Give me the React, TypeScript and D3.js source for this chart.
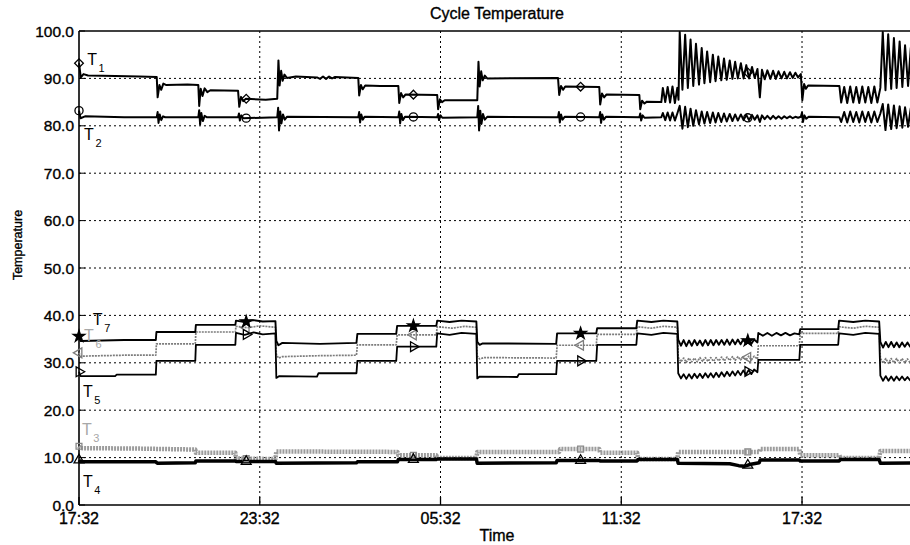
import { useEffect } from 'react';
import * as d3 from 'd3';

type Pt = [number, number];

// hours after 17:32 on the x axis, temperatures on the y axis
const hourTicks = [0, 6, 12, 18, 24];
const hourTickLabels = ['17:32', '23:32', '05:32', '11:32', '17:32'];
const tempTicks = [0, 10, 20, 30, 40, 50, 60, 70, 80, 90, 100];
const markerHours = [0, 5.55, 11.1, 16.65, 22.2];

const t1Temp: Pt[] = [
  [0, 93.2], [0.06, 90.2], [0.15, 90.9], [0.3, 90.6], [1.2, 90.5], [2.0, 90.4], [2.58, 90.3],
  [2.61, 86.0], [2.67, 88.6], [2.73, 87.6], [2.8, 88.9], [2.9, 88.6], [3.6, 88.7], [3.96, 88.6],
  [3.99, 84.2], [4.04, 87.8], [4.1, 86.3], [4.17, 87.9], [4.26, 87.1], [4.36, 87.5], [5.28, 87.4],
  [5.32, 84.0], [5.38, 86.1], [5.45, 85.2], [5.54, 85.7], [6.2, 85.5], [6.58, 85.7],
  [6.62, 93.8], [6.66, 88.5], [6.71, 91.6], [6.76, 89.5], [6.82, 90.8], [6.9, 90.1], [7.2, 90.4],
  [7.9, 90.2], [8.0, 89.9], [8.1, 90.4], [8.2, 89.9], [8.3, 90.4], [8.4, 90.0], [8.5, 90.3], [9.27, 90.1],
  [9.3, 86.4], [9.36, 88.6], [9.42, 87.7], [9.5, 88.5], [10.0, 88.4], [10.6, 88.4],
  [10.63, 84.8], [10.69, 86.9], [10.76, 86.0], [10.84, 86.6], [11.89, 86.5],
  [11.92, 83.5], [11.98, 85.6], [12.05, 85.0], [12.14, 85.4], [13.22, 85.4],
  [13.26, 93.5], [13.3, 88.3], [13.35, 91.5], [13.4, 89.6], [13.47, 90.6], [13.55, 90.0], [15.9, 90.1],
  [15.94, 86.5], [16.0, 88.4], [16.07, 87.6], [16.14, 88.3], [17.27, 88.2],
  [17.3, 84.5], [17.36, 86.8], [17.43, 86.0], [17.51, 86.6], [18.6, 86.5],
  [18.63, 83.5], [18.69, 85.3], [18.77, 84.7], [18.85, 85.1], [19.33, 85.0],
  [19.38, 88.0], [19.46, 85.0], [19.54, 88.2], [19.62, 84.9], [19.7, 88.3], [19.78, 84.8], [19.86, 88.0], [19.9, 85.5],
  [19.94, 99.8], [20.03, 87.6], [20.12, 99.2], [20.21, 88.0], [20.3, 98.2], [20.39, 88.4], [20.48, 97.3],
  [20.58, 88.7], [20.67, 96.4], [20.76, 89.0], [20.85, 95.7], [20.95, 89.2], [21.04, 95.0], [21.13, 89.4],
  [21.22, 94.6], [21.32, 89.6], [21.41, 94.2], [21.5, 89.7], [21.6, 93.8], [21.69, 89.9], [21.78, 93.5],
  [21.87, 90.0], [21.97, 93.2], [22.06, 90.0], [22.15, 92.8], [22.24, 90.0], [22.34, 92.4], [22.43, 90.1],
  [22.52, 92.0], [22.6, 86.0], [22.67, 91.8], [22.76, 89.8], [22.85, 91.7], [22.95, 89.9], [23.04, 91.6],
  [23.13, 89.9], [23.22, 91.5], [23.32, 90.0], [23.41, 91.4], [23.5, 90.0], [23.6, 91.3], [23.69, 90.1],
  [23.78, 91.2], [23.87, 90.2], [23.96, 90.9],
  [24.01, 85.4], [24.07, 88.8], [24.13, 87.8], [24.2, 88.5], [25.24, 88.4],
  [25.3, 84.9], [25.4, 88.2], [25.5, 84.8], [25.6, 88.3], [25.7, 84.9], [25.8, 88.2], [25.9, 84.8],
  [26.0, 88.3], [26.1, 84.9], [26.2, 88.2], [26.3, 84.8], [26.4, 88.3], [26.5, 84.9], [26.6, 88.0],
  [26.68, 99.8], [26.77, 87.5], [26.86, 99.3], [26.96, 87.8], [27.05, 98.5], [27.14, 88.0],
  [27.24, 97.8], [27.33, 88.2], [27.42, 97.0], [27.52, 88.4], [27.61, 96.4], [27.7, 88.5],
];

const t2Temp: Pt[] = [
  [0, 83.2], [0.05, 81.6], [0.2, 82.0], [1.5, 81.8], [2.58, 81.8],
  [2.61, 82.9], [2.64, 80.6], [2.68, 82.4], [2.73, 81.2], [2.79, 82.0], [2.86, 81.8], [3.96, 81.8],
  [3.99, 83.3], [4.02, 80.3], [4.06, 82.7], [4.11, 81.0], [4.17, 82.1], [4.25, 81.8], [5.28, 81.8],
  [5.31, 82.6], [5.34, 81.1], [5.39, 82.2], [5.45, 81.6], [6.58, 81.8],
  [6.61, 83.8], [6.64, 79.0], [6.68, 83.0], [6.72, 80.5], [6.77, 82.4], [6.83, 81.3], [6.9, 81.9], [9.27, 81.8],
  [9.3, 82.9], [9.33, 80.7], [9.37, 82.4], [9.42, 81.3], [9.48, 81.9], [10.6, 81.8],
  [10.63, 83.0], [10.66, 80.5], [10.7, 82.5], [10.75, 81.2], [10.82, 81.9], [11.89, 81.8],
  [11.92, 82.5], [11.95, 81.2], [12.0, 82.2], [12.06, 81.7], [13.22, 81.8],
  [13.25, 84.2], [13.28, 79.0], [13.32, 83.2], [13.36, 80.4], [13.41, 82.5], [13.47, 81.3], [13.55, 81.9], [15.9, 81.8],
  [15.93, 82.9], [15.96, 80.7], [16.0, 82.4], [16.05, 81.3], [16.12, 81.9], [17.27, 81.8],
  [17.3, 82.9], [17.33, 80.6], [17.37, 82.4], [17.42, 81.3], [17.49, 81.9], [18.6, 81.8],
  [18.63, 82.6], [18.66, 81.1], [18.71, 82.2], [18.77, 81.7], [19.33, 81.8],
  [19.38, 82.7], [19.46, 81.2], [19.54, 82.8], [19.62, 81.1], [19.7, 82.8], [19.78, 81.1], [19.86, 82.6],
  [19.94, 84.2], [20.03, 79.4], [20.12, 84.0], [20.21, 79.7], [20.3, 83.6], [20.39, 80.0], [20.48, 83.3],
  [20.58, 80.3], [20.67, 83.0], [20.76, 80.5], [20.85, 82.9], [20.95, 80.6], [21.04, 82.8], [21.13, 80.7],
  [21.22, 82.7], [21.32, 80.8], [21.41, 82.6], [21.5, 80.9], [21.6, 82.5], [21.69, 81.0], [21.78, 82.4],
  [21.87, 81.1], [21.97, 82.4], [22.06, 81.2], [22.15, 82.3], [22.24, 81.2], [22.34, 82.3], [22.43, 81.3],
  [22.52, 82.2], [22.6, 80.8], [22.67, 82.2], [22.76, 81.4], [22.85, 82.1], [22.95, 81.4], [23.04, 82.1],
  [23.13, 81.5], [23.22, 82.0], [23.32, 81.5], [23.41, 82.0], [23.5, 81.6], [23.6, 82.0], [23.69, 81.6],
  [23.78, 81.9], [23.87, 81.7], [23.96, 81.9],
  [24.0, 82.8], [24.03, 80.8], [24.08, 82.2], [24.14, 81.5], [24.22, 81.9], [25.24, 81.8],
  [25.3, 80.8], [25.4, 82.9], [25.5, 80.7], [25.6, 83.0], [25.7, 80.8], [25.8, 82.9], [25.9, 80.7],
  [26.0, 83.0], [26.1, 80.8], [26.2, 82.9], [26.3, 80.7], [26.4, 83.0], [26.5, 80.8], [26.6, 82.6],
  [26.68, 84.6], [26.77, 79.1], [26.86, 84.5], [26.96, 79.3], [27.05, 84.3], [27.14, 79.5],
  [27.24, 84.1], [27.33, 79.6], [27.42, 83.9], [27.52, 79.8], [27.61, 83.7], [27.7, 79.9],
];

const t7Temp: Pt[] = [
  [0, 35.6], [0.05, 34.6], [1.5, 34.8], [2.55, 34.8],
  [2.57, 36.5], [3.86, 36.5],
  [3.88, 38.0], [5.19, 38.0],
  [5.21, 38.9], [5.5, 38.6], [5.8, 39.0], [6.1, 38.7], [6.52, 38.8],
  [6.55, 34.6], [6.62, 33.7], [6.75, 34.2], [8.0, 34.0], [9.21, 34.2],
  [9.24, 36.1], [10.53, 36.1],
  [10.56, 37.8], [11.86, 37.8],
  [11.89, 38.9], [12.3, 38.6], [12.7, 38.9], [13.19, 38.7],
  [13.22, 34.4], [13.3, 33.8], [13.4, 34.1], [15.84, 34.0],
  [15.87, 36.2], [17.17, 36.2],
  [17.2, 37.3], [18.5, 37.3],
  [18.53, 38.9], [19.0, 38.6], [19.4, 38.9], [19.86, 38.7],
  [19.89, 34.9], [19.98, 33.6], [20.07, 34.8], [20.16, 33.5], [20.25, 34.7], [20.34, 33.6], [20.43, 34.8],
  [20.52, 33.7], [20.61, 34.7], [20.7, 33.6], [20.79, 34.8], [20.88, 33.7], [20.97, 34.8], [21.06, 33.7],
  [21.15, 34.8], [21.24, 33.8], [21.33, 34.8], [21.42, 33.8], [21.51, 34.9], [21.6, 33.8], [21.69, 34.9],
  [21.78, 33.9], [21.87, 34.9], [21.96, 33.9], [22.05, 34.9], [22.14, 34.0], [22.23, 35.0], [22.32, 34.0],
  [22.41, 34.9], [22.52, 34.3],
  [22.55, 36.3], [22.7, 35.7], [22.85, 36.3], [23.0, 35.7], [23.15, 36.3], [23.3, 35.8], [23.45, 36.3],
  [23.6, 35.8], [23.75, 36.2], [23.91, 36.0],
  [23.94, 37.1], [25.2, 37.1],
  [25.23, 38.9], [25.7, 38.6], [26.1, 38.9], [26.56, 38.7],
  [26.6, 34.4], [26.69, 33.2], [26.78, 34.4], [26.87, 33.3], [26.96, 34.4], [27.05, 33.3], [27.14, 34.3],
  [27.23, 33.3], [27.32, 34.3], [27.41, 33.4], [27.5, 34.3], [27.59, 33.4], [27.68, 34.2], [27.77, 33.6],
];

const t6Temp: Pt[] = [
  [0, 32.1], [0.05, 31.4], [1.5, 31.6], [2.55, 31.6],
  [2.57, 34.0], [3.86, 34.0],
  [3.88, 36.5], [5.19, 36.5],
  [5.21, 37.7], [5.6, 37.4], [6.0, 37.8], [6.52, 37.5],
  [6.55, 31.8], [6.62, 31.0], [6.75, 31.3], [8.0, 31.5], [9.21, 31.6],
  [9.24, 33.8], [10.53, 33.8],
  [10.56, 35.9], [11.86, 35.9],
  [11.89, 37.6], [12.4, 37.3], [12.8, 37.7], [13.19, 37.5],
  [13.22, 31.4], [13.3, 30.8], [13.45, 31.1], [15.84, 31.0],
  [15.87, 33.7], [17.17, 33.7],
  [17.2, 36.0], [18.5, 36.0],
  [18.53, 37.6], [19.0, 37.3], [19.4, 37.7], [19.86, 37.5],
  [19.89, 31.2], [19.98, 30.2], [20.07, 31.0], [20.16, 30.1], [20.25, 31.0], [20.34, 30.2], [20.43, 31.0],
  [20.52, 30.2], [20.61, 31.1], [20.7, 30.3], [20.79, 31.1], [20.88, 30.3], [20.97, 31.1], [21.06, 30.3],
  [21.15, 31.1], [21.24, 30.4], [21.33, 31.2], [21.42, 30.4], [21.51, 31.2], [21.6, 30.5], [21.69, 31.3],
  [21.78, 30.5], [21.87, 31.3], [21.96, 30.6], [22.05, 31.3], [22.14, 30.6], [22.23, 31.4], [22.32, 30.6],
  [22.41, 31.4], [22.52, 30.8],
  [22.55, 33.6], [23.91, 33.6],
  [23.94, 36.2], [25.2, 36.2],
  [25.23, 37.6], [25.7, 37.3], [26.1, 37.7], [26.56, 37.5],
  [26.6, 31.0], [26.69, 29.9], [26.78, 30.9], [26.87, 29.9], [26.96, 30.9], [27.05, 30.0], [27.14, 30.9],
  [27.23, 30.0], [27.32, 30.9], [27.41, 30.0], [27.5, 30.8], [27.59, 30.0], [27.68, 30.8], [27.77, 30.2],
];

const t5Temp: Pt[] = [
  [0, 28.1], [0.05, 27.2], [1.2, 27.2], [1.25, 27.5], [2.55, 27.5],
  [2.57, 30.4], [3.86, 30.4],
  [3.88, 33.8], [5.19, 33.8],
  [5.21, 36.3], [5.5, 35.9], [5.8, 36.4], [6.1, 36.0], [6.52, 36.2],
  [6.55, 26.8], [6.65, 27.2], [7.9, 27.1], [7.95, 27.8], [9.21, 27.8],
  [9.24, 30.4], [10.53, 30.4],
  [10.56, 33.4], [11.86, 33.4],
  [11.89, 36.2], [12.3, 35.9], [12.7, 36.3], [13.19, 36.1],
  [13.22, 26.7], [13.3, 27.1], [14.55, 27.0], [14.6, 27.6], [15.84, 27.6],
  [15.87, 30.4], [17.17, 30.4],
  [17.2, 33.8], [18.5, 33.8],
  [18.53, 36.2], [19.0, 35.9], [19.4, 36.3], [19.86, 36.1],
  [19.89, 27.8], [19.98, 26.7], [20.07, 27.6], [20.16, 26.6], [20.25, 27.6], [20.34, 26.7], [20.43, 27.7],
  [20.52, 26.8], [20.61, 27.7], [20.7, 26.8], [20.79, 27.8], [20.88, 26.9], [20.97, 27.8], [21.06, 26.9],
  [21.15, 27.9], [21.24, 27.0], [21.33, 28.0], [21.42, 27.1], [21.51, 28.1], [21.6, 27.2], [21.69, 28.2],
  [21.78, 27.3], [21.87, 28.3], [21.96, 27.4], [22.05, 28.4], [22.14, 27.5], [22.23, 28.5], [22.32, 27.6],
  [22.41, 28.6], [22.52, 28.0],
  [22.55, 30.6], [23.91, 30.6],
  [23.94, 33.8], [25.2, 33.8],
  [25.23, 36.2], [25.7, 35.9], [26.1, 36.3], [26.56, 36.1],
  [26.6, 27.3], [26.69, 26.2], [26.78, 27.2], [26.87, 26.2], [26.96, 27.1], [27.05, 26.2], [27.14, 27.1],
  [27.23, 26.3], [27.32, 27.1], [27.41, 26.3], [27.5, 27.0], [27.59, 26.3], [27.68, 27.0], [27.77, 26.5],
];

const t3Temp: Pt[] = [
  [0, 12.4], [0.05, 12.0], [2.0, 11.9], [3.86, 11.7],
  [3.88, 11.0], [5.19, 11.0],
  [5.21, 9.8], [6.52, 9.7],
  [6.55, 11.3], [10.57, 11.2],
  [10.6, 10.5], [11.86, 10.5],
  [11.89, 9.9], [13.19, 9.9],
  [13.22, 11.2], [15.94, 11.2],
  [15.97, 11.8], [17.27, 11.8],
  [17.3, 11.0], [18.53, 11.0],
  [18.56, 9.7], [19.86, 9.7],
  [19.89, 11.2], [22.58, 11.2],
  [22.61, 11.8], [23.91, 11.8],
  [23.94, 10.5], [25.24, 10.5],
  [25.27, 9.9], [26.56, 9.9],
  [26.6, 11.4], [27.75, 11.4],
];

const t4Temp: Pt[] = [
  [0, 9.5], [0.05, 9.1], [2.55, 9.1], [2.6, 8.8], [3.86, 8.9],
  [3.88, 9.3], [5.19, 9.3],
  [5.21, 9.2], [6.52, 9.2],
  [6.55, 8.8], [9.21, 8.9],
  [9.24, 9.1], [10.57, 9.1],
  [10.6, 9.6], [11.86, 9.6],
  [11.89, 9.7], [13.19, 9.7],
  [13.22, 8.8], [15.84, 8.9],
  [15.87, 9.4], [17.27, 9.4],
  [17.3, 9.3], [18.53, 9.3],
  [18.56, 9.6], [19.86, 9.6],
  [19.89, 8.8], [21.6, 8.7], [21.9, 8.3], [22.1, 8.2], [22.3, 8.6], [22.58, 8.9],
  [22.61, 9.5], [23.91, 9.5],
  [23.94, 9.3], [25.24, 9.3],
  [25.27, 9.6], [26.56, 9.6],
  [26.6, 8.8], [27.75, 8.9],
];

type MarkerKind = 'diamond' | 'circle' | 'star' | 'triLeft' | 'triRight' | 'square' | 'triUp';

const series: { data: Pt[]; color: string; width: number; dash?: string; marker: MarkerKind }[] = [
  { data: t1Temp, color: '#000', width: 2, marker: 'diamond' },
  { data: t2Temp, color: '#000', width: 2, marker: 'circle' },
  { data: t3Temp, color: '#9c9c9c', width: 4.5, dash: '2,1', marker: 'square' },
  { data: t4Temp, color: '#000', width: 3.5, marker: 'triUp' },
  { data: t6Temp, color: '#7c7c7c', width: 1.7, dash: '2,1', marker: 'triLeft' },
  { data: t5Temp, color: '#000', width: 1.8, marker: 'triRight' },
  { data: t7Temp, color: '#000', width: 1.9, marker: 'star' },
];

// label anchors in data units (hours, temperature)
const seriesLabels = [
  { sub: '1', hour: 0.27, temp: 92.8, color: '#000' },
  { sub: '2', hour: 0.17, temp: 77.0, color: '#000' },
  { sub: '7', hour: 0.46, temp: 38.0, color: '#000' },
  { sub: '6', hour: 0.17, temp: 34.6, color: '#a8a8a8' },
  { sub: '5', hour: 0.13, temp: 22.8, color: '#000' },
  { sub: '3', hour: 0.1, temp: 14.8, color: '#a8a8a8' },
  { sub: '4', hour: 0.13, temp: 3.8, color: '#000' },
];

const width = 910;
const height = 545;
const margin = { left: 79, top: 31, right: 915, bottom: 505 };
const font = 'Liberation Sans, Arial, Helvetica, sans-serif';

const valueAt = (data: Pt[], h: number) => {
  const i = d3.bisector((d: Pt) => d[0]).left(data, h);
  if (i <= 0) return data[0][1];
  if (i >= data.length) return data[data.length - 1][1];
  const a = data[i - 1];
  const b = data[i];
  return a[1] + ((b[1] - a[1]) * (h - a[0])) / (b[0] - a[0]);
};

const markerPath = (kind: MarkerKind) => {
  switch (kind) {
    case 'diamond': return { d: d3.symbol().type(d3.symbolSquare).size(38)()!, rot: 45 };
    case 'circle': return { d: d3.symbol().type(d3.symbolCircle).size(52)()!, rot: 0 };
    case 'star': return { d: d3.symbol().type(d3.symbolStar).size(42)()!, rot: 0 };
    case 'triLeft': return { d: d3.symbol().type(d3.symbolTriangle).size(42)()!, rot: -90 };
    case 'triRight': return { d: d3.symbol().type(d3.symbolTriangle).size(42)()!, rot: 90 };
    case 'square': return { d: d3.symbol().type(d3.symbolSquare).size(34)()!, rot: 0 };
    default: return { d: d3.symbol().type(d3.symbolTriangle).size(42)()!, rot: 0 };
  }
};

export default function App() {
  useEffect(() => {
    document.body.style.margin = '0';
  }, []);

  const x = d3.scaleLinear().domain([0, 27.75]).range([margin.left, margin.right]);
  const y = d3.scaleLinear().domain([0, 100]).range([margin.bottom, margin.top]);
  const line = d3.line<Pt>().x((d) => x(d[0])).y((d) => y(d[1]));
  const heavy = { stroke: '#000', strokeWidth: 0.35 };

  return (
    <svg width={width} height={height} style={{ display: 'block', position: 'absolute', left: 0, top: 0, background: '#fff' }}
      fontFamily={font}>
      <rect width={width} height={height} fill="#fff" />
      <text x={497} y={19} textAnchor="middle" fontSize={16} {...heavy}>Cycle Temperature</text>

      {/* grid */}
      {tempTicks.filter((t) => t > 0 && t < 100).map((t) => (
        <line key={'gy' + t} x1={margin.left} x2={margin.right} y1={y(t)} y2={y(t)}
          stroke="#000" strokeWidth={1} strokeDasharray="2,3" />
      ))}
      {hourTicks.filter((h) => h > 0).map((h) => (
        <line key={'gx' + h} x1={x(h)} x2={x(h)} y1={margin.top} y2={margin.bottom}
          stroke="#000" strokeWidth={1} strokeDasharray="2,3" />
      ))}

      {/* frame */}
      <line x1={margin.left} x2={margin.right} y1={margin.top} y2={margin.top} stroke="#000" strokeWidth={1.3} />
      <line x1={margin.left} x2={margin.right} y1={margin.bottom} y2={margin.bottom} stroke="#000" strokeWidth={1.6} />
      <line x1={margin.left} x2={margin.left} y1={margin.top} y2={margin.bottom} stroke="#000" strokeWidth={1.6} />
      {tempTicks.map((t) => (
        <g key={'ty' + t}>
          <line x1={margin.left} x2={margin.left + 6} y1={y(t)} y2={y(t)} stroke="#000" />
          <text x={74} y={y(t)} dy="0.36em" textAnchor="end" fontSize={15.5} {...heavy}>{t.toFixed(1)}</text>
        </g>
      ))}
      {hourTicks.map((h, i) => (
        <g key={'tx' + h}>
          <line x1={x(h)} x2={x(h)} y1={margin.bottom} y2={margin.bottom - 8} stroke="#000" strokeWidth={1.3} />
          <text x={x(h)} y={524} textAnchor="middle" fontSize={16} {...heavy}>{hourTickLabels[i]}</text>
        </g>
      ))}
      <text x={497} y={541} textAnchor="middle" fontSize={16} {...heavy}>Time</text>
      <text transform="translate(22,245) rotate(-90)" textAnchor="middle" fontSize={12.5} {...heavy}>Temperature</text>

      {/* series */}
      {series.map((s, i) => (
        <path key={'s' + i} d={line(s.data)!} fill="none" stroke={s.color} strokeWidth={s.width}
          strokeDasharray={s.dash} strokeLinejoin="round" />
      ))}
      {series.map((s, i) => {
        const m = markerPath(s.marker);
        return markerHours.map((h) => (
          <path key={'m' + i + '-' + h} d={m.d}
            transform={`translate(${x(h)},${y(valueAt(s.data, h))}) rotate(${m.rot})`}
            fill={s.marker === 'star' ? '#000' : 'none'} stroke={s.color === '#9c9c9c' ? '#888' : s.color}
            strokeWidth={1.3} />
        ));
      })}

      {/* labels */}
      {seriesLabels.map((l) => (
        <text key={'l' + l.sub} x={x(l.hour)} y={y(l.temp)} fontSize={16} fill={l.color}>
          T<tspan dx={1.5} dy={7} fontSize={11}>{l.sub}</tspan>
        </text>
      ))}
    </svg>
  );
}
